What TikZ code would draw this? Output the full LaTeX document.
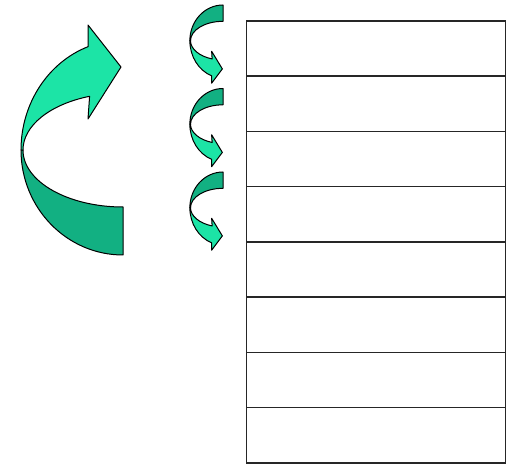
\documentclass[tikz,border=0pt]{standalone}
\begin{document}
\begin{tikzpicture}[x=1pt,y=1pt]
\definecolor{lightgreen}{RGB}{28,228,166}
\definecolor{darkgreen}{RGB}{18,176,130}
\tikzset{
  rowbox/.style={draw=black!85, line width=1.5pt, minimum width=259pt, minimum height=55.25pt, inner sep=0pt, outer sep=0pt},
  arrowline/.style={draw=black, line width=1pt, line join=round},
  curvedarrow/.pic={
    \filldraw[arrowline, fill=darkgreen] (-100,0) arc[start angle=180,end angle=270,x radius=100,y radius=57]
      -- (0,-105) arc[start angle=270,end angle=180,x radius=102,y radius=105] -- cycle;
    \filldraw[arrowline, fill=lightgreen] (-35,103.4) -- (-35,125) -- (-2,83) -- (-35,31) -- (-33.4,53.7)
      arc[start angle=109.5,end angle=180,x radius=100,y radius=57]
      -- (-102,0) arc[start angle=180,end angle=110,x radius=102,y radius=110] -- cycle;
  }
}
\useasboundingbox (0,0) rectangle (514,466);
% table
\foreach \i in {1,...,8}{
  \node[rowbox] (r\i) at (376.2, {445-(\i-0.5)*55.25}) {};
}
% big arrow
\pic (big) at (123,316) {curvedarrow};
% small arrows
\pic[xscale=0.325,yscale=-0.34] (s1) at (223,425.3) {curvedarrow};
\pic[xscale=0.325,yscale=-0.34] (s2) at (223,341.8) {curvedarrow};
\pic[xscale=0.325,yscale=-0.34] (s3) at (223,258.3) {curvedarrow};
\end{tikzpicture}
\end{document}
